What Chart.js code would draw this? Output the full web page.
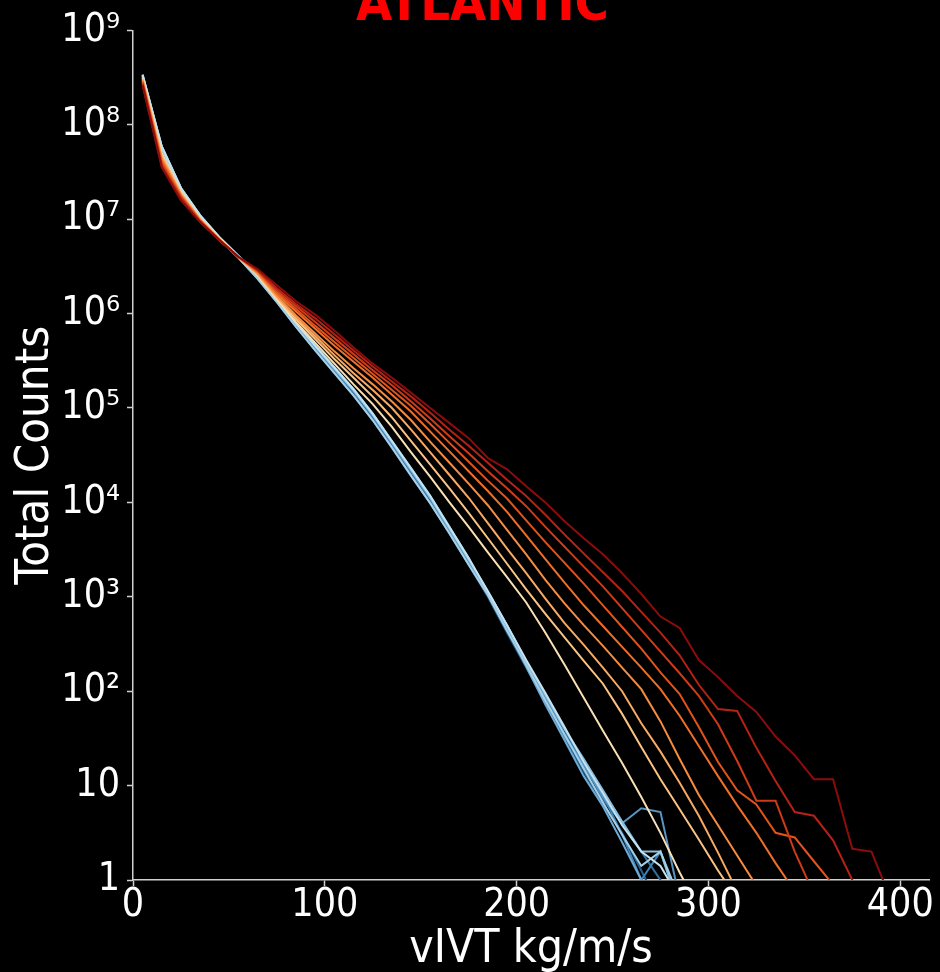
<!DOCTYPE html>
<html>
<head>
<meta charset="utf-8">
<title>ATLANTIC</title>
<script src="https://cdn.jsdelivr.net/npm/chart.js"></script>
<style>
    html, body { margin: 0; padding: 0; background: #000; }
    canvas { display: block; }
</style>
</head>
<body>
<canvas id="HistChart" width="940" height="972"></canvas>
<script>
// bin centres (kg/m/s)
const xBins = [5, 15, 25, 35, 45, 55, 65, 75, 85, 95, 105, 115, 125, 135, 145, 155, 165, 175, 185, 195,
               205, 215, 225, 235, 245, 255, 265, 275, 285, 295, 305, 315, 325, 335, 345, 355, 365, 375, 385, 395];

const xTickValues = [0, 100, 200, 300, 400];
const xTickLabels = ['0', '100', '200', '300', '400'];
const yTickValues = [1, 10, 1e2, 1e3, 1e4, 1e5, 1e6, 1e7, 1e8, 1e9];
const yTickLabels = ['1', '10', '10²', '10³', '10⁴', '10⁵', '10⁶', '10⁷', '10⁸', '10⁹'];

// blue family (counts per bin)
const cool1 = [3.24e8, 5.62e7, 2.04e7, 1.05e7, 6.17e6, 3.89e6, 2.34e6, 1.32e6, 7.24e5, 4.07e5, 2.34e5, 1.35e5, 7.41e4, 3.80e4, 1.91e4, 9.77e3, 4.68e3, 2.19e3,
               1000, 417, 178, 75.9, 31.6, 14.1, 6.31, 3.16, 1.26, 0.5];
const cool2 = [3.31e8, 5.75e7, 2.09e7, 1.07e7, 6.31e6, 3.98e6, 2.45e6, 1.38e6, 7.59e5, 4.37e5, 2.51e5, 1.48e5, 8.13e4, 4.17e4, 2.09e4, 1.07e4, 5.01e3, 2.34e3,
               1122, 501, 200, 89.1, 35.5, 17.8, 7.08, 3.98, 2.0, 1.0, 0.32];
const cool3 = [3.24e8, 5.62e7, 2.04e7, 1.05e7, 6.17e6, 3.89e6, 2.36e6, 1.33e6, 7.30e5, 4.10e5, 2.38e5, 1.38e5, 7.60e4, 3.90e4, 1.95e4, 9.90e3, 4.75e3, 2.22e3,
               1047, 447, 200, 79.4, 39.8, 15.8, 7.94, 3.02, 1.0, 2.0, 0.5];
const cool4 = [3.31e8, 5.75e7, 2.09e7, 1.07e7, 6.31e6, 3.98e6, 2.45e6, 1.40e6, 7.65e5, 4.42e5, 2.55e5, 1.50e5, 8.30e4, 4.25e4, 2.15e4, 1.10e4, 5.10e3, 2.40e3,
               1096, 479, 191, 83.2, 33.1, 16.6, 7.59, 3.98, 5.75, 5.25, 0.63];
const cool5 = [3.39e8, 5.89e7, 2.14e7, 1.10e7, 6.46e6, 4.07e6, 2.51e6, 1.45e6, 7.94e5, 4.57e5, 2.69e5, 1.58e5, 8.71e4, 4.47e4, 2.29e4, 1.17e4, 5.50e3, 2.57e3,
               1072, 457, 182, 72.4, 30.2, 12.6, 6.03, 2.51, 1.0, 0.5];
const cool6 = [3.39e8, 5.89e7, 2.14e7, 1.10e7, 6.46e6, 4.07e6, 2.50e6, 1.43e6, 7.80e5, 4.50e5, 2.62e5, 1.54e5, 8.50e4, 4.35e4, 2.22e4, 1.13e4, 5.30e3, 2.48e3,
               1148, 501, 209, 91.2, 39.8, 19.1, 8.91, 4.17, 2.0, 2.0, 0.5];
const cool7 = [3.24e8, 5.62e7, 2.04e7, 1.05e7, 6.17e6, 3.89e6, 2.34e6, 1.32e6, 7.24e5, 4.07e5, 2.34e5, 1.35e5, 7.41e4, 3.80e4, 1.91e4, 9.77e3, 4.68e3, 2.19e3,
               1047, 437, 191, 79.4, 34.7, 15.1, 6.61, 3.02, 1.41, 2.0, 0.63];
const cool8 = [3.39e8, 5.89e7, 2.14e7, 1.10e7, 6.46e6, 4.07e6, 2.51e6, 1.45e6, 7.94e5, 4.57e5, 2.69e5, 1.58e5, 8.71e4, 4.47e4, 2.29e4, 1.17e4, 5.50e3, 2.57e3,
               1148, 501, 214, 95.5, 41.7, 17.8, 8.32, 3.8, 2.0, 1.41, 0.63];

// cream -> dark red family
const warm1 = [3.16e8, 5.01e7, 1.95e7, 1.02e7, 6.31e6, 3.98e6, 2.51e6, 1.41e6, 8.13e5, 4.90e5, 2.95e5, 1.78e5, 1.10e5, 6.31e4, 3.39e4, 1.86e4, 1.0e4, 5.50e3,
               2.95e3, 1.62e3, 871, 417, 191, 85.1, 38.0, 17.4, 7.59, 3.16, 1.2, 0.5];
const warm2 = [3.09e8, 4.79e7, 1.91e7, 1.0e7, 6.17e6, 3.98e6, 2.57e6, 1.48e6, 8.71e5, 5.37e5, 3.31e5, 2.09e5, 1.32e5, 7.94e4, 4.47e4, 2.51e4, 1.41e4, 7.76e3,
               4.17e3, 2.24e3, 1.20e3, 661, 372, 209, 120, 57.5, 25.7, 11.7, 5.62, 2.69, 1.26, 0.63];
const warm3 = [3.02e8, 4.57e7, 1.86e7, 1.0e7, 6.17e6, 3.98e6, 2.63e6, 1.51e6, 9.12e5, 5.75e5, 3.63e5, 2.34e5, 1.55e5, 1.0e5, 5.89e4, 3.39e4, 1.95e4, 1.12e4,
               6.03e3, 3.24e3, 1.78e3, 955, 525, 309, 178, 100, 45.7, 22.9, 10.7, 4.79, 1.95, 0.76];
const warm4 = [2.95e8, 4.37e7, 1.82e7, 9.77e6, 6.17e6, 3.98e6, 2.69e6, 1.55e6, 9.55e5, 6.17e5, 3.98e5, 2.63e5, 1.78e5, 1.17e5, 7.41e4, 4.37e4, 2.63e4, 1.58e4,
               9.33e3, 5.13e3, 2.82e3, 1.51e3, 851, 501, 302, 178, 105, 47.9, 19.1, 7.94, 3.8, 1.82, 0.87];
const warm5 = [2.88e8, 4.17e7, 1.78e7, 9.77e6, 6.03e6, 3.98e6, 2.75e6, 1.62e6, 1.05e6, 6.92e5, 4.57e5, 3.09e5, 2.09e5, 1.38e5, 9.12e4, 5.62e4, 3.47e4, 2.14e4,
               1.32e4, 7.94e3, 4.47e3, 2.51e3, 1.41e3, 813, 490, 295, 178, 105, 55.0, 26.3, 12.6, 6.17, 3.16, 1.51, 0.76];
const warm6 = [2.82e8, 3.98e7, 1.74e7, 9.55e6, 6.03e6, 3.98e6, 2.82e6, 1.70e6, 1.12e6, 7.41e5, 5.01e5, 3.39e5, 2.29e5, 1.55e5, 1.05e5, 6.76e4, 4.27e4, 2.69e4,
               1.70e4, 1.10e4, 6.46e3, 3.80e3, 2.29e3, 1.38e3, 813, 479, 282, 158, 93.3, 41.7, 17.8, 8.91, 6.31, 3.16, 2.82, 1.58, 0.89];
const warm7 = [2.75e8, 3.80e7, 1.70e7, 9.55e6, 6.03e6, 3.98e6, 2.88e6, 1.78e6, 1.20e6, 8.13e5, 5.50e5, 3.72e5, 2.51e5, 1.74e5, 1.17e5, 7.76e4, 5.01e4, 3.31e4,
               2.14e4, 1.41e4, 9.12e3, 5.50e3, 3.39e3, 2.09e3, 1.29e3, 759, 447, 263, 155, 89.1, 44.7, 18.2, 6.92, 6.92, 2.0, 0.71];
const warm8 = [2.69e8, 3.63e7, 1.66e7, 9.33e6, 6.03e6, 3.98e6, 2.88e6, 1.86e6, 1.26e6, 8.91e5, 6.03e5, 4.07e5, 2.75e5, 1.91e5, 1.32e5, 8.91e4, 5.89e4, 3.98e4,
               2.63e4, 1.74e4, 1.17e4, 7.41e3, 4.57e3, 2.88e3, 1.82e3, 1.15e3, 692, 417, 240, 117, 64.6, 61.7, 25.1, 11.2, 5.25, 4.79, 2.63, 1.0, 0.4];
const warm9 = [2.63e8, 3.55e7, 1.58e7, 9.33e6, 6.03e6, 3.98e6, 2.95e6, 2.0e6, 1.35e6, 9.77e5, 6.61e5, 4.37e5, 2.95e5, 2.09e5, 1.45e5, 1.0e5, 6.92e4, 4.79e4,
               2.95e4, 2.24e4, 1.48e4, 1.0e4, 6.31e3, 4.17e3, 2.82e3, 1.78e3, 1.07e3, 617, 468, 214, 141, 89.1, 60.3, 33.1, 20.9, 11.7, 11.7, 2.14, 2.0, 0.63];

const coolColors = ['#24618f', '#306fa2', '#3f82b5', '#5596c5', '#6eaad3', '#89bddd', '#a6cfe6', '#c4e2f0'];
const warmColors = ['#f8e0b4', '#fbc283', '#f9a962', '#f68c40', '#ef6f29', '#e2531c', '#cf3a18', '#b42216', '#8c0c0c'];

function graph_vivt_histogram() {
    const ctx = document.getElementById("HistChart").getContext("2d");

    Chart.defaults.font.family = "'DejaVu Sans Condensed', 'DejaVu Sans', sans-serif";
    Chart.defaults.color = "#ffffff";

    const series = [cool1, cool2, cool3, cool4, cool5, cool6, cool7, cool8,
                    warm1, warm2, warm3, warm4, warm5, warm6, warm7, warm8, warm9];
    const colors = coolColors.concat(warmColors);

    // last series (dark red) ends up on top, like the reference
    const datasets = series.map((vals, i) => ({
        label: 'series ' + (i + 1),
        data: vals.map((v, j) => ({ x: xBins[j], y: v })),
        borderColor: colors[i],
        backgroundColor: colors[i],
        borderWidth: 2,
        pointRadius: 0,
        fill: false,
        tension: 0,
        order: series.length - i
    }));

    new Chart(ctx, {
        type: "line",
        data: { datasets: datasets },
        options: {
            responsive: false,
            animation: false,
            devicePixelRatio: 1,
            layout: {
                padding: { left: 36, right: 11, top: 0, bottom: 0 }
            },
            plugins: {
                legend: { display: false },
                tooltip: { enabled: false },
                title: {
                    display: true,
                    text: 'ATLANTIC',
                    color: '#ff0000',
                    font: { size: 52, weight: 'bold' },
                    padding: { top: -30, bottom: -7 }
                }
            },
            scales: {
                x: {
                    type: 'linear',
                    min: 0,
                    max: 415,
                    afterBuildTicks: (scale) => {
                        scale.ticks = xTickValues.map(v => ({ value: v }));
                    },
                    afterFit: (scale) => { scale.height = 92; },
                    ticks: {
                        color: '#ffffff',
                        font: { size: 39 },
                        padding: -4,
                        maxRotation: 0,
                        autoSkip: false,
                        callback: (value, index) => xTickLabels[index]
                    },
                    grid: {
                        drawOnChartArea: false,
                        color: '#d0d0d0',
                        tickLength: 6,
                        tickWidth: 1.5
                    },
                    border: { color: '#d0d0d0', width: 1.5 },
                    title: {
                        display: true,
                        text: 'vIVT kg/m/s',
                        color: '#ffffff',
                        font: { size: 46 },
                        padding: { top: 0, bottom: -6 }
                    }
                },
                y: {
                    type: 'logarithmic',
                    min: 1,
                    max: 1e9,
                    afterBuildTicks: (scale) => {
                        scale.ticks = yTickValues.map(v => ({ value: v }));
                    },
                    afterFit: (scale) => { scale.width = 97; },
                    ticks: {
                        color: '#ffffff',
                        font: { size: 39 },
                        padding: 7,
                        autoSkip: false,
                        callback: (value, index) => yTickLabels[index]
                    },
                    grid: {
                        drawOnChartArea: false,
                        color: '#d0d0d0',
                        tickLength: 6,
                        tickWidth: 1.5
                    },
                    border: { color: '#d0d0d0', width: 1.5 },
                    title: {
                        display: true,
                        text: 'Total Counts',
                        color: '#ffffff',
                        font: { size: 47 },
                        padding: { top: -28, bottom: 0 }
                    }
                }
            }
        }
    });
}

graph_vivt_histogram();
</script>
</body>
</html>
